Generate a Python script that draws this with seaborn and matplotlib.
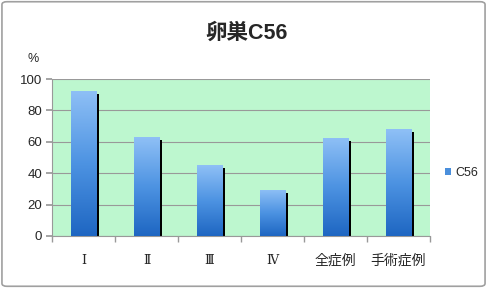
import numpy as np
import pandas as pd
import matplotlib
matplotlib.use("Agg")
import matplotlib.pyplot as plt
from matplotlib.patches import Rectangle, FancyBboxPatch
from matplotlib.colors import LinearSegmentedColormap
import seaborn as sns

categories = ["Ⅰ", "Ⅱ", "Ⅲ", "Ⅳ", "全症例", "手術症例"]
values = [92.5, 63, 45, 29.5, 62.5, 68]
series_name = "C56"
title = "卵巣C56"

sns.set_theme(style="white")
plt.rcParams['font.family'] = ['Liberation Sans', 'Noto Sans CJK JP', 'DejaVu Sans']

df = pd.DataFrame({"cat": categories, "val": values, "series": series_name})

fig = plt.figure(figsize=(4.87, 2.88), dpi=100)
ax = fig.add_axes([52/487, 52/288, 378/487, 157/288])
ax.set_facecolor("#bdf7cf")

sns.barplot(data=df, x="cat", y="val", hue="series", palette=["#4a8fdc"],
            width=0.4, ax=ax, zorder=3, linewidth=0, saturation=1)

cmap = LinearSegmentedColormap.from_list("g", ["#1e66c2", "#4d93e2", "#8fc0f6"])
grad = np.linspace(0, 1, 256).reshape(-1, 1)
for p in list(ax.patches):
    x, y = p.get_x(), p.get_y()
    w, h = p.get_width(), p.get_height()
    sh = Rectangle((x + w + 0.0, y), 0.045, h - 1.8, facecolor="black",
                   edgecolor="none", zorder=2.5)
    ax.add_patch(sh)
    im = ax.imshow(grad, cmap=cmap, aspect="auto", origin="lower",
                   extent=(x, x + w, y, y + h), zorder=3.1)
    im.set_clip_path(p)

ax.set_xlim(-0.5, len(categories) - 0.5)
ax.set_ylim(0, 100)
ax.set_yticks([0, 20, 40, 60, 80, 100])
ax.yaxis.grid(True, color="#999999", linewidth=0.8, zorder=1)
ax.set_axisbelow(True)
ax.set_xlabel("")
ax.set_ylabel("")
for s in ["top", "right"]:
    ax.spines[s].set_visible(False)
for s in ["left", "bottom"]:
    ax.spines[s].set_color("#999999")
    ax.spines[s].set_linewidth(0.8)
ax.tick_params(axis="y", left=True, length=4, color="#999999", labelsize=9.5, pad=3)
ax.tick_params(axis="x", bottom=False, labelsize=10, pad=7)
ax.set_xticks(range(len(categories)))
ax.set_xticklabels(categories)
for t in ax.get_xticklabels():
    if t.get_text() in ["Ⅰ", "Ⅱ", "Ⅲ", "Ⅳ"]:
        t.set_family(["DejaVu Serif", "Noto Sans CJK JP"])
        t.set_fontsize(9)
ax.set_xticks(np.arange(-0.5, len(categories), 1.0), minor=True)
ax.tick_params(axis="x", which="minor", bottom=True, length=4, color="#999999")

leg = ax.legend(loc="center left", bbox_to_anchor=(1.01, 0.4), frameon=False,
                handlelength=0.5, handleheight=0.5, handletextpad=0.3,
                fontsize=9)

fig.text(247/487, 1 - 33/288, title, ha="center", va="center", fontsize=15.5,
         fontweight="bold")
fig.text(33/487, 1 - 59/288, "%", ha="center", va="center", fontsize=9)

frame = FancyBboxPatch((0.004, 0.006), 0.992, 0.988, boxstyle="round,pad=0,rounding_size=0.01",
                       transform=fig.transFigure, facecolor="none",
                       edgecolor="#a0a0a0", linewidth=1.2)
fig.patches.append(frame)

fig.savefig("out.png", dpi=100)
